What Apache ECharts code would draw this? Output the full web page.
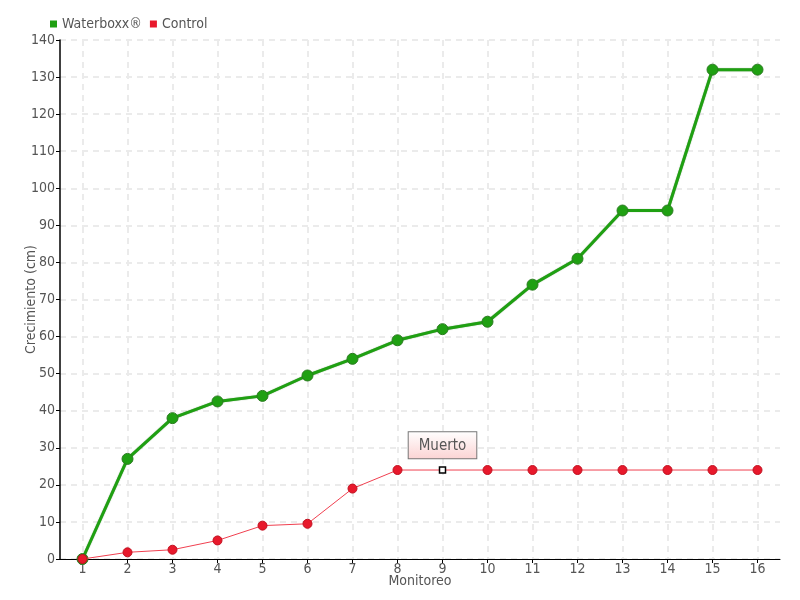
<!DOCTYPE html>
<html><head><meta charset="utf-8">
<script src="https://cdn.jsdelivr.net/npm/echarts@6/dist/echarts.min.js"></script>
<style>html,body{margin:0;padding:0;background:#fff}#c{width:800px;height:600px}</style>
</head><body><div id="c"></div>
<script>
const categories = ['1','2','3','4','5','6','7','8','9','10','11','12','13','14','15','16'];
const waterboxx = [0, 27, 38, 42.5, 44, 49.5, 54, 59, 62, 64, 74, 81, 94, 94, 132, 132];
const control = [0, 1.8, 2.5, 5, 9, 9.5, 19, 24, 24, 24, 24, 24, 24, 24, 24, 24];
const deadIndex = 8;
const deadLabel = 'Muerto';

const FONT = "'Liberation Sans Narrow','DejaVu Sans Condensed',sans-serif";
const chart = echarts.init(document.getElementById('c'));
const controlData = control.map((v, i) => i === deadIndex ? {
  value: v, symbol: 'rect', symbolSize: 6,
  itemStyle: {color: '#fff', borderColor: '#000', borderWidth: 1.5},
  label: {show: true, formatter: deadLabel, position: 'top', distance: 8,
    color: '#555', fontFamily: FONT, fontSize: 15,
    backgroundColor: {type: 'linear', x: 0, y: 0, x2: 0, y2: 1,
      colorStops: [{offset: 0, color: '#fff'}, {offset: 1, color: '#fbd3d3'}]},
    borderColor: '#777', borderWidth: 1, padding: [6, 10, 5, 10]}
} : v);

chart.setOption({
  animation: false,
  textStyle: {fontFamily: FONT},
  legend: {left: 45, top: 12, itemWidth: 7, itemHeight: 7, itemGap: 8,
    itemStyle: {borderWidth: 0},
    textStyle: {color: '#555', fontSize: 14, fontFamily: FONT},
    data: [{name: 'Waterboxx®', icon: 'rect'}, {name: 'Control', icon: 'rect'}]},
  grid: {left: 60, right: 20, top: 40, bottom: 41, outerBoundsMode: 'none', containLabel: false},
  xAxis: {type: 'category', data: categories, boundaryGap: true,
    name: 'Monitoreo', nameLocation: 'middle', nameGap: 15, nameMoveOverlap: false,
    nameTextStyle: {color: '#555', fontSize: 14, fontFamily: FONT},
    axisLine: {lineStyle: {color: '#000', width: 1}},
    axisTick: {show: true, alignWithLabel: true, length: 4, lineStyle: {color: '#000'}},
    axisLabel: {color: '#555', fontSize: 14, margin: 3, fontFamily: FONT},
    splitLine: {show: true, alignWithLabel: true, lineStyle: {color: '#ebebeb', type: [6, 5], width: 2}}},
  yAxis: {type: 'value', min: 0, max: 140, interval: 10,
    name: 'Crecimiento (cm)', nameLocation: 'middle', nameGap: 22, nameMoveOverlap: false,
    nameTextStyle: {color: '#555', fontSize: 14, fontFamily: FONT},
    axisLine: {show: true, lineStyle: {color: '#000', width: 1.5}},
    axisTick: {show: true, length: 4, lineStyle: {color: '#000'}},
    axisLabel: {color: '#555', fontSize: 14, margin: 5, fontFamily: FONT},
    splitLine: {show: true, lineStyle: {color: '#ebebeb', type: [6, 5], width: 2}}},
  series: [
    {name: 'Waterboxx®', type: 'line', data: waterboxx, color: '#1fa012',
      lineStyle: {width: 3, color: '#1fa012', shadowColor: 'rgba(40,100,30,0.6)', shadowBlur: 1},
      symbol: 'circle', symbolSize: 11,
      itemStyle: {color: '#1fa012', borderColor: '#2a7a20', borderWidth: 1}, z: 3},
    {name: 'Control', type: 'line', data: controlData, color: '#e8192c',
      lineStyle: {width: 1, color: '#f04050'}, symbol: 'circle', symbolSize: 9,
      itemStyle: {color: '#e8192c', borderColor: '#c0101f', borderWidth: 1}, z: 4}
  ]
});
</script></body></html>
